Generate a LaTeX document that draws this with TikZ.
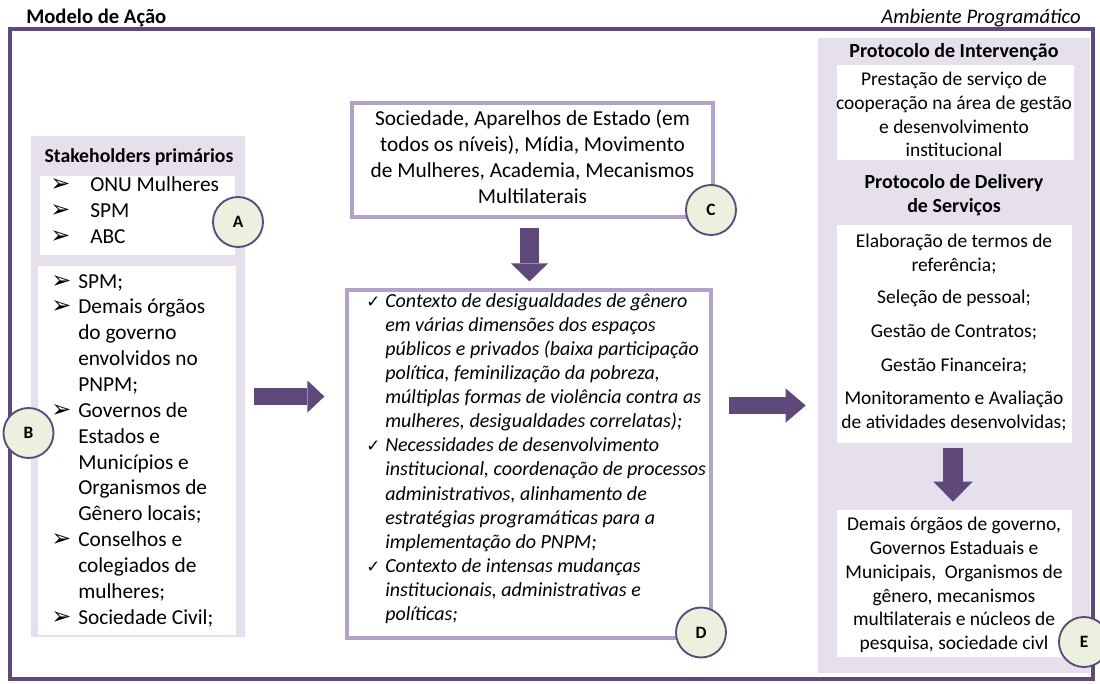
\documentclass[tikz,border=0pt]{standalone}
\usepackage{fontspec}
\setmainfont{Carlito}
\newfontfamily\symfont{DejaVu Sans}
\usetikzlibrary{arrows.meta,calc,fit}

\definecolor{framepurple}{RGB}{95,73,122}
\definecolor{lavender}{RGB}{229,224,236}
\definecolor{boxline}{RGB}{179,162,199}
\definecolor{badgegreen}{RGB}{235,241,222}

\newcommand{\arr}{{\symfont\fontsize{18}{12}\selectfont ➢}}
\newcommand{\chk}{{\symfont\fontsize{12.5}{10}\selectfont ✓}}

\begin{document}
\begin{tikzpicture}[x=0.75pt,y=0.75pt,yscale=-1,xscale=1,
  panel/.style={fill=lavender,inner sep=0pt},
  whitebox/.style={fill=white,inner sep=0pt},
  linebox/.style={draw=boxline,line width=2.4pt,fill=white,inner sep=0pt},
  badge/.style={circle,draw=framepurple,line width=1.4pt,fill=badgegreen,minimum size=37.5pt,inner sep=0pt,font=\fontsize{13}{14}\selectfont\bfseries},
  fatarrow/.style n args={3}{draw=framepurple,line width=#1,-{Triangle[length=#2,width=#3,line width=0pt]}},
  listtext/.style={anchor=base west,inner sep=0pt},
  rtext/.style={align=center,inner sep=0pt,font=\fontsize{14.6}{17.8}\selectfont}
]
\useasboundingbox (0,0) rectangle (1100,683);

% outer frame and titles
\node[fit={(10,29) (1093,679)},draw=framepurple,line width=2.4pt,inner sep=0pt] (frame) {};
\node[anchor=west,inner sep=0pt,font=\fontsize{15.5}{18}\selectfont\bfseries] (title) at (26,18) {Modelo de Ação};
\node[anchor=east,inner sep=0pt,font=\fontsize{15.5}{18}\selectfont\itshape] (env) at (1081,18) {Ambiente Programático};

% left panel
\node[panel,fit={(31,136) (245,637)}] (lpanel) {};
\node[inner sep=0pt,font=\fontsize{14.8}{17}\selectfont\bfseries] (sthead) at (139,157) {Stakeholders primários};
\node[whitebox,fit={(40,176) (235,255)}] (abox) {};
\node[listtext,font=\fontsize{16}{19.8}\selectfont] (alist) at (50,191) {\begin{tabular}[t]{@{}p{30pt}@{}l@{}}
\arr & ONU Mulheres\\
\arr & SPM\\
\arr & ABC
\end{tabular}};
\node[whitebox,fit={(38,266) (236,635)}] (bbox) {};
\node[listtext,font=\fontsize{16}{19.4}\selectfont] (blist) at (51,288) {\begin{tabular}[t]{@{}p{20.25pt}@{}l@{}}
\arr & SPM;\\
\arr & Demais órgãos\\
 & do governo\\
 & envolvidos no\\
 & PNPM;\\
\arr & Governos de\\
 & Estados e\\
 & Municípios e\\
 & Organismos de\\
 & Gênero locais;\\
\arr & Conselhos e\\
 & colegiados de\\
 & mulheres;\\
\arr & Sociedade Civil;
\end{tabular}};

% middle boxes
\node[linebox,fit={(352,103) (713,217)}] (cbox) {};
\node[align=center,inner sep=0pt,font=\fontsize{16}{19.5}\selectfont] (ctext) at (532.5,157) {Sociedade, Aparelhos de Estado (em\\todos os níveis), Mídia, Movimento\\de Mulheres, Academia, Mecanismos\\Multilaterais};
\node[linebox,fit={(347,290) (711,638)}] (dbox) {};
\node[listtext,font=\fontsize{15}{18.1}\selectfont\itshape] (dlist) at (366,307) {\begin{tabular}[t]{@{}p{14.25pt}@{}l@{}}
\chk & Contexto de desigualdades de gênero\\
 & em várias dimensões dos espaços\\
 & públicos e privados (baixa participação\\
 & política, feminilização da pobreza,\\
 & múltiplas formas de violência contra as\\
 & mulheres, desigualdades correlatas);\\
\chk & Necessidades de desenvolvimento\\
 & institucional, coordenação de processos\\
 & administrativos, alinhamento de\\
 & estratégias programáticas para a\\
 & implementação do PNPM;\\
\chk & Contexto de intensas mudanças\\
 & institucionais, administrativas e\\
 & políticas;
\end{tabular}};

% right panel
\node[panel,fit={(818,38) (1090,673)}] (rpanel) {};
\node[inner sep=0pt,font=\fontsize{15}{17.8}\selectfont\bfseries] (ihead) at (954,52) {Protocolo de Intervenção};
\node[whitebox,fit={(837,65) (1074,160)}] (ibox) {};
\node[rtext] (itext) at (954,114.5) {Prestação de serviço de\\cooperação na área de gestão\\e desenvolvimento\\institucional};
\node[rtext,font=\fontsize{15}{18}\selectfont\bfseries] (dhead) at (954,195) {Protocolo de Delivery\\de Serviços};
\node[whitebox,fit={(837,225) (1072,443)}] (sbox) {};
\node[rtext] (stext) at (954,332.5) {Elaboração de termos de\\referência;\\[6.5pt]Seleção de pessoal;\\[7.5pt]Gestão de Contratos;\\[7.5pt]Gestão Financeira;\\[7pt]Monitoramento e Avaliação\\de atividades desenvolvidas;};
\node[whitebox,fit={(837,510) (1072,657)}] (ebox) {};
\node[rtext] (etext) at (954,585) {Demais órgãos de governo,\\Governos Estaduais e\\Municipais, \ Organismos de\\gênero, mecanismos\\multilaterais e núcleos de\\pesquisa, sociedade civl};

% block arrows
\draw[fatarrow={12.75pt}{12.75pt}{24pt}] ($(lpanel.east)+(9,10)$) -- ($(dbox.west)+(-21,-67.5)$);
\draw[fatarrow={12.75pt}{15pt}{25.5pt}] ($(dbox.east)+(16,-58.5)$) -- ($(rpanel.west)+(-12,50)$);
\draw[fatarrow={14.25pt}{13.5pt}{27.75pt}] ($(cbox.south)+(-3,9)$) -- ($(dbox.north)+(0.5,-7)$);
\draw[fatarrow={15pt}{15pt}{29.25pt}] ($(sbox.south)+(-1.5,5)$) -- ($(ebox.north)+(-1.5,-8)$);

% badges
\node[badge] (A) at (238,222) {A};
\node[badge] (B) at (28.5,433) {B};
\node[badge] (C) at (711,210) {C};
\node[badge] (D) at (701,632.5) {D};
\node[badge] (E) at (1084,642) {E};
\end{tikzpicture}
\end{document}
